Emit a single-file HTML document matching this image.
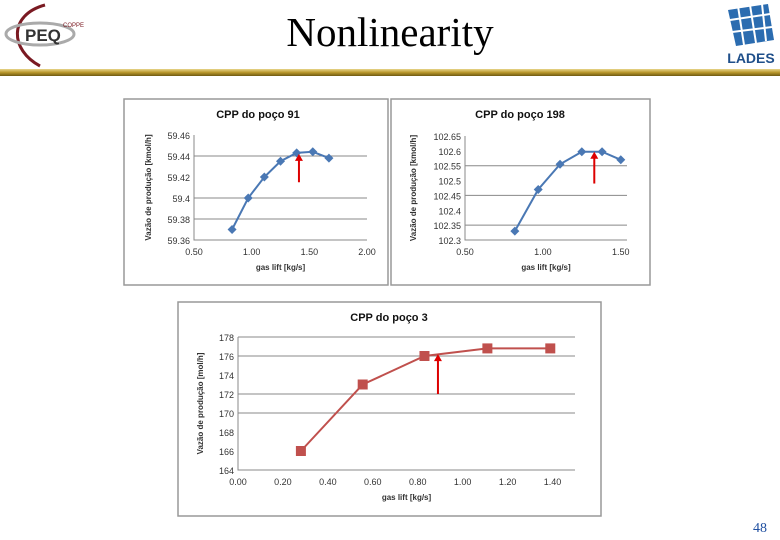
<!DOCTYPE html>
<html><head><meta charset="utf-8"><style>
body{margin:0;background:#fff;}
svg{display:block;font-family:"Liberation Sans",sans-serif;}
</style></head><body>
<svg id="s" width="780" height="540" viewBox="0 0 780 540">
<defs><linearGradient id="gold" x1="0" y1="0" x2="0" y2="1"><stop offset="0" stop-color="#e8d58a"/><stop offset="0.5" stop-color="#b8962a"/><stop offset="1" stop-color="#6f5a12"/></linearGradient></defs>
<g>
<path d="M40,66 C10,50 8,15 45,5" fill="none" stroke="#7a1a22" stroke-width="3"/>
<ellipse cx="40" cy="34" rx="34" ry="11" fill="none" stroke="#aaa" stroke-width="3"/>
<text x="25" y="41" font-size="17" font-weight="bold" fill="#333">PEQ</text>
<text x="63" y="27" font-size="6" fill="#7a1a22">COPPE</text>
</g>
<text x="390" y="46" text-anchor="middle" font-family="Liberation Serif,serif" font-size="41" fill="#000">Nonlinearity</text>
<g>
<path d="M728,10 L768,4 L774,40 L736,46 Z" fill="#2b6cb0"/>
<path d="M738,6 L744,45 M750,5 L756,43 M762,4 L766,41 M730,20 L770,14 M732,32 L772,27" stroke="#fff" stroke-width="2"/>
<text x="751" y="63" text-anchor="middle" font-size="14" fill="#1f4f8a" font-weight="bold">LADES</text>
</g>
<rect x="0" y="69" width="780" height="7" fill="url(#gold)"/>
<text x="760" y="532" text-anchor="middle" font-family="Liberation Serif,serif" font-size="14" fill="#1f4fa0">48</text>
<g id="charts"></g>
</svg>
<script>
const c1X=[0.83,0.97,1.11,1.25,1.39,1.53,1.67];
const c1Y=[59.37,59.40,59.42,59.435,59.443,59.444,59.438];
const c1XTicks=[0.5,1.0,1.5,2.0];
const c1YTicks=[59.36,59.38,59.4,59.42,59.44,59.46];
const c1YLabels=["59.36","59.38","59.4","59.42","59.44","59.46"];
const c2X=[0.82,0.97,1.11,1.25,1.38,1.50];
const c2Y=[102.33,102.47,102.555,102.597,102.597,102.57];
const c2XTicks=[0.5,1.0,1.5];
const c2YTicks=[102.3,102.35,102.4,102.45,102.5,102.55,102.6,102.65];
const c2YLabels=["102.3","102.35","102.4","102.45","102.5","102.55","102.6","102.65"];
const c3X=[0.28,0.555,0.83,1.11,1.39];
const c3Y=[166,173,176,176.8,176.8];
const c3XTicks=[0,0.2,0.4,0.6,0.8,1.0,1.2,1.4];
const c3YTicks=[164,166,168,170,172,174,176,178];
const c3YLabels=["164","166","168","170","172","174","176","178"];
const NS="http://www.w3.org/2000/svg";
const root=document.getElementById('charts');
function mk(t,a,p){const e=document.createElementNS(NS,t);for(const k in a)e.setAttribute(k,a[k]);(p||root).appendChild(e);return e;}
function chart(o){
  const g=mk('g',{});
  
  
  const fr=mk('rect',{x:o.box[0],y:o.box[1],width:o.box[2],height:o.box[3],fill:'#fff',stroke:'#999','stroke-width':1.5},g);
  
  
  const sx=v=>o.px[0]+(v-o.xd[0])/(o.xd[1]-o.xd[0])*(o.px[1]-o.px[0]);
  const sy=v=>o.py[1]-(v-o.yd[0])/(o.yd[1]-o.yd[0])*(o.py[1]-o.py[0]);
  o.yt.forEach((v,i)=>{
    if(o.grid.includes(i)){const l=mk('line',{x1:o.px[0],x2:o.px[1],y1:sy(v),y2:sy(v),stroke:'#888','stroke-width':1},g);
    
    }
    const t=mk('text',{x:o.px[0]-4,y:sy(v)+4,'text-anchor':'end','font-size':o.fs,fill:'#333'},g);t.textContent=o.yl[i];
    
    
  });
  const ax=mk('path',{d:`M${o.px[0]},${o.py[0]}V${o.py[1]}H${o.px[1]}`,fill:'none',stroke:'#888'},g);
  
  
  o.xt.forEach(v=>{const t=mk('text',{x:sx(v),y:o.py[1]+15,'text-anchor':'middle','font-size':o.fs,fill:'#333'},g);t.textContent=v.toFixed(2);
    
    });
  const tt=mk('text',{x:o.tx,y:o.box[1]+19,'text-anchor':'middle','font-size':11,'font-weight':'bold',fill:'#111'},g);tt.textContent=o.title;
  
  
  const xt=mk('text',{x:(o.px[0]+o.px[1])/2,y:o.py[1]+30,'text-anchor':'middle','font-size':8,'font-weight':'bold',fill:'#333'},g);xt.textContent='gas lift [kg/s]';
  
  
  const yx=o.yTitleX,yc=(o.py[0]+o.py[1])/2;
  const yt=mk('text',{x:yx,y:yc,'text-anchor':'middle','font-size':8,'font-weight':'bold',fill:'#333',transform:`rotate(-90 ${yx} ${yc})`},g);yt.textContent=o.ytitle;
  
  
  const pts=o.x.map((v,i)=>sx(v)+','+sy(o.y[i])).join(' ');
  const pl=mk('polyline',{points:pts,fill:'none',stroke:o.col,'stroke-width':2},g);
  
  
  o.x.forEach((v,i)=>{const X=sx(v),Y=sy(o.y[i]);let m;
    if(o.sq)m=mk('rect',{x:X-5,y:Y-5,width:10,height:10,fill:o.col},g);
    else m=mk('path',{d:`M${X},${Y-4.5}L${X+4.5},${Y}L${X},${Y+4.5}L${X-4.5},${Y}Z`,fill:o.col},g);
    
    });
  const ar=mk('g',{},g);
  
  
  mk('line',{x1:sx(o.arr[0]),x2:sx(o.arr[0]),y1:sy(o.arr[1]),y2:sy(o.arr[2])+5,stroke:'#d00','stroke-width':2},ar);
  const ax2=sx(o.arr[0]),ay=sy(o.arr[2]);
  mk('path',{d:`M${ax2},${ay}L${ax2-4},${ay+7}L${ax2+4},${ay+7}Z`,fill:'#d00'},ar);
}
chart({name:'chart-poco-91',box:[124,99,264,186],px:[194,367],py:[135,240],xd:[0.5,2.0],yd:[59.36,59.46],x:c1X,y:c1Y,xt:c1XTicks,yt:c1YTicks,yl:c1YLabels,fs:9,tx:258,title:'CPP do poço 91',ytitle:'Vazão de produção [kmol/h]',yTitleX:151,col:'#4a78b4',grid:[1,2,4],arr:[1.41,59.415,59.442]});
chart({name:'chart-poco-198',box:[391,99,259,186],px:[465,627],py:[136,240],xd:[0.5,1.54],yd:[102.3,102.65],x:c2X,y:c2Y,xt:c2XTicks,yt:c2YTicks,yl:c2YLabels,fs:9,tx:520,title:'CPP do poço 198',ytitle:'Vazão de produção [kmol/h]',yTitleX:416,col:'#4a78b4',grid:[1,3,5],arr:[1.33,102.49,102.597]});
chart({name:'chart-poco-3',box:[178,302,423,214],px:[238,575],py:[337,470],xd:[0,1.5],yd:[164,178],x:c3X,y:c3Y,xt:c3XTicks,yt:c3YTicks,yl:c3YLabels,fs:9,tx:389,title:'CPP do poço 3',ytitle:'Vazão de produção [mol/h]',yTitleX:203,col:'#c0504d',sq:true,grid:[3,4,6,7],arr:[0.89,172,176.2]});
</script>
</body></html>
